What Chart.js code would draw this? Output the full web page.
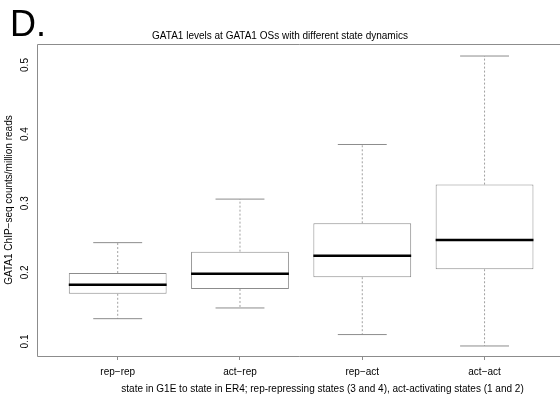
<!DOCTYPE html>
<html><head><meta charset="utf-8">
<script src="https://cdn.jsdelivr.net/npm/chart.js@4.4.1/dist/chart.umd.min.js"></script>
<style>html,body{margin:0;padding:0;background:#fff;overflow:hidden}</style>
</head><body>
<canvas id="c" width="560" height="396"></canvas>
<script>
// ---- data ----
const categories  = ['rep−rep', 'act−rep', 'rep−act', 'act−act'];
const whiskerLow  = [0.133, 0.1485, 0.110, 0.0935];
const quartile1   = [0.169, 0.176, 0.193, 0.2045];
const median      = [0.182, 0.198, 0.224, 0.247];
const quartile3   = [0.199, 0.230, 0.271, 0.327];
const whiskerHigh = [0.243, 0.306, 0.385, 0.513];
const yTicks      = [0.1, 0.2, 0.3, 0.4, 0.5];

const panelLabel = 'D.';
const chartTitle = 'GATA1 levels at GATA1 OSs with different state dynamics';
const xTitle = 'state in G1E to state in ER4; rep-repressing states (3 and 4), act-activating states (1 and 2)';
const yTitle = 'GATA1 ChIP−seq counts/million reads';

// ---- styling ----
const FONT = "'Liberation Sans', Arial, Helvetica, sans-serif";
const GREY = '#8c8c8c';
const BOX_HALF = 0.4;   // boxwex 0.8
const CAP_HALF = 0.2;   // staplewex 0.5
const X_TITLE_SHIFT = 285.5; // caption centre, measured from the plot's left edge
const pos = categories.map((_, i) => i + 1);

function segments(fn) {
  const out = [];
  pos.forEach((x, i) => { fn(x, i).forEach(p => out.push(p)); });
  return out;
}

const framePlugin = {
  id: 'frame',
  beforeDatasetsDraw(chart) {
    const { ctx, chartArea: a } = chart;
    const l = Math.round(a.left) + 0.5, t = Math.round(a.top) + 0.5, b = Math.round(a.bottom) + 0.5, r = a.right + 2;
    ctx.save();
    ctx.strokeStyle = GREY; ctx.lineWidth = 1;
    ctx.beginPath();
    ctx.moveTo(r, t); ctx.lineTo(l, t); ctx.lineTo(l, b); ctx.lineTo(r, b);
    ctx.stroke();
    ctx.restore();
  }
};
const textPlugin = {
  id: 'texts',
  afterDraw(chart) {
    const ctx = chart.ctx, a = chart.chartArea;
    ctx.save();
    ctx.fillStyle = '#000';
    ctx.font = '36px ' + FONT;
    ctx.textBaseline = 'alphabetic';
    ctx.textAlign = 'left';
    ctx.fillText(panelLabel, 10, 36);
    const xs = chart.scales.x;
    ctx.font = '10px ' + FONT;
    ctx.textAlign = 'center';
    ctx.textBaseline = 'middle';
    ctx.fillText(chart.options.scales.x.title.text, a.left + X_TITLE_SHIFT, xs.bottom - 7);
    ctx.restore();
  }
};

const lineBase = { type: 'line', pointRadius: 0, fill: false, spanGaps: false, tension: 0 };

new Chart(document.getElementById('c'), {
  type: 'bar',
  data: {
    datasets: [
      {
        label: 'box', order: 4,
        data: pos.map((x, i) => ({ x, y: [quartile1[i], quartile3[i]] })),
        backgroundColor: '#ffffff', borderColor: GREY, borderWidth: 1, borderSkipped: false,
        barPercentage: 0.8, categoryPercentage: 1.0
      },
      Object.assign({}, lineBase, {
        label: 'whiskers', order: 3, borderColor: '#a0a0a0', borderWidth: 1, borderDash: [2, 2],
        data: segments((x, i) => [
          { x, y: quartile3[i] }, { x, y: whiskerHigh[i] }, { x, y: null },
          { x, y: quartile1[i] }, { x, y: whiskerLow[i] }, { x, y: null }
        ])
      }),
      Object.assign({}, lineBase, {
        label: 'caps', order: 2, borderColor: GREY, borderWidth: 1,
        data: segments((x, i) => [
          { x: x - CAP_HALF, y: whiskerHigh[i] }, { x: x + CAP_HALF, y: whiskerHigh[i] }, { x, y: null },
          { x: x - CAP_HALF, y: whiskerLow[i] }, { x: x + CAP_HALF, y: whiskerLow[i] }, { x, y: null }
        ])
      }),
      Object.assign({}, lineBase, {
        label: 'median', order: 1, borderColor: '#000', borderWidth: 2.5,
        data: segments((x, i) => [
          { x: x - BOX_HALF, y: median[i] }, { x: x + BOX_HALF, y: median[i] }, { x, y: null }
        ])
      })
    ]
  },
  options: {
    responsive: false,
    devicePixelRatio: 1,
    animation: false,
    events: [],
    layout: { padding: 0 },
    plugins: {
      legend: { display: false },
      tooltip: { enabled: false },
      title: {
        display: true, text: chartTitle, color: '#000',
        font: { family: FONT, size: 10, weight: 'normal', lineHeight: 1.2 },
        padding: { top: 30, bottom: 2 }
      }
    },
    scales: {
      x: {
        type: 'linear', min: 0.34, max: 4.617, offset: false,
        afterBuildTicks: s => { s.ticks = pos.map(v => ({ value: v })); },
        ticks: {
          callback: (v, i) => categories[i],
          font: { family: FONT, size: 10 }, color: '#000', padding: 6,
          maxRotation: 0, minRotation: 0, autoSkip: false
        },
        grid: { display: true, offset: false, drawOnChartArea: false, drawTicks: true, tickLength: 4, color: GREY },
        border: { display: false },
        title: { display: false, text: xTitle, color: '#000', font: { family: FONT, size: 10 } },
        afterFit: s => { s.height = 40; }
      },
      y: {
        type: 'linear', min: 0.079, max: 0.5304,
        afterBuildTicks: s => { s.ticks = yTicks.map(v => ({ value: v })); },
        ticks: {
          callback: v => v.toFixed(1),
          minRotation: 90, maxRotation: 90, crossAlign: 'center', padding: 5,
          font: { family: FONT, size: 10 }, color: '#000'
        },
        grid: { display: false, drawTicks: false },
        border: { display: false },
        title: { display: true, text: yTitle, color: '#000', font: { family: FONT, size: 10 }, padding: { top: 3, bottom: 0 } },
        afterFit: s => { s.width = 37; }
      }
    }
  },
  plugins: [framePlugin, textPlugin]
});
</script>
</body></html>
